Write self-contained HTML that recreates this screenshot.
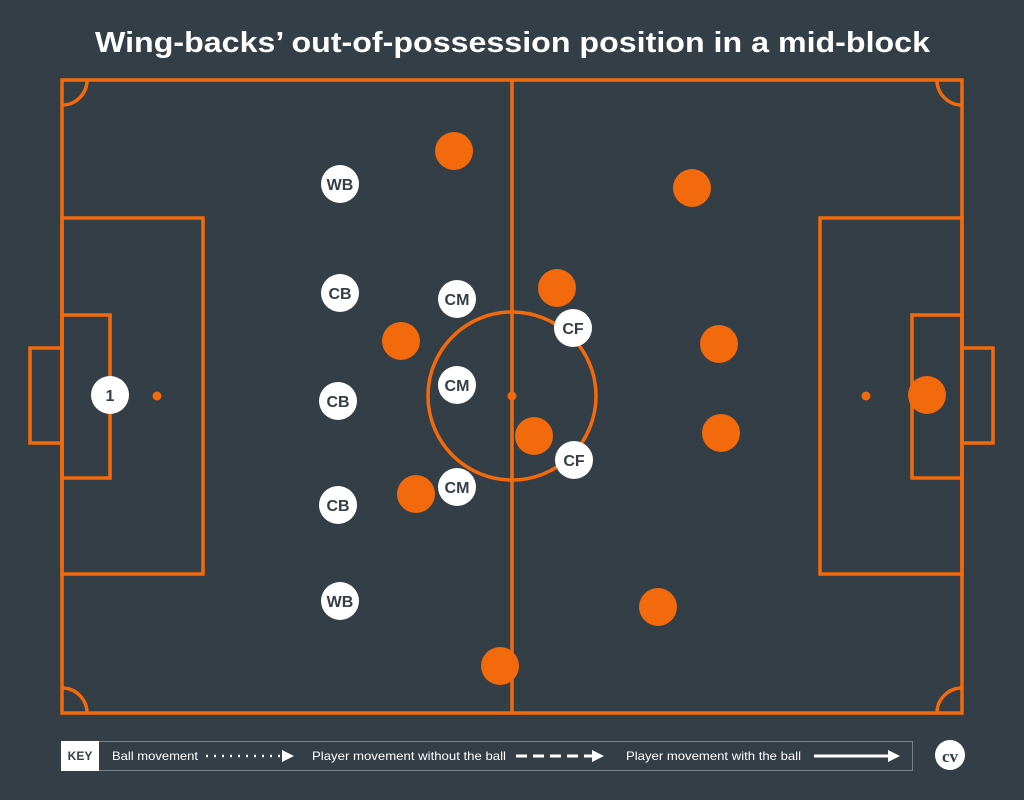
<!DOCTYPE html>
<html><head><meta charset="utf-8"><style>
html,body{margin:0;padding:0;background:#343e46;}
svg{display:block}
</style></head><body>
<svg width="1024" height="800" viewBox="0 0 1024 800" xmlns="http://www.w3.org/2000/svg">
<rect width="1024" height="800" fill="#343e46"/>
<text x="95" y="52" textLength="835" lengthAdjust="spacingAndGlyphs" font-family="Liberation Sans, sans-serif" font-weight="bold" font-size="29" fill="#fff">Wing-backs’ out-of-possession position in a mid-block</text>
<g fill="none" stroke="#f26a0c" stroke-width="3.5">
<rect x="62" y="80" width="900" height="633"/>
<line x1="512" y1="80" x2="512" y2="713"/>
<circle cx="512" cy="396" r="84"/>
<rect x="62" y="218" width="141" height="356"/>
<rect x="62" y="315" width="48" height="163"/>
<rect x="30" y="348" width="32" height="95"/>
<rect x="820" y="218" width="142" height="356"/>
<rect x="912" y="315" width="50" height="163"/>
<rect x="962" y="348" width="31" height="95"/>
<path d="M62 105 A25 25 0 0 0 87 80"/>
<path d="M937 80 A25 25 0 0 0 962 105"/>
<path d="M62 688 A25 25 0 0 1 87 713"/>
<path d="M937 713 A25 25 0 0 1 962 688"/>
</g>
<g fill="#f26a0c">
<circle cx="512" cy="396" r="4.5"/><circle cx="157" cy="396" r="4.5"/><circle cx="866" cy="396" r="4.5"/>
<circle cx="454" cy="151" r="19"/><circle cx="692" cy="188" r="19"/><circle cx="557" cy="288" r="19"/>
<circle cx="401" cy="341" r="19"/><circle cx="719" cy="344" r="19"/><circle cx="534" cy="436" r="19"/>
<circle cx="721" cy="433" r="19"/><circle cx="416" cy="494" r="19"/><circle cx="658" cy="607" r="19"/>
<circle cx="500" cy="666" r="19"/><circle cx="927" cy="395" r="19"/>
</g>
<g fill="#fff">
<circle cx="110" cy="395" r="19"/><circle cx="340" cy="184" r="19"/><circle cx="340" cy="293" r="19"/>
<circle cx="338" cy="401" r="19"/><circle cx="338" cy="505" r="19"/><circle cx="340" cy="601" r="19"/>
<circle cx="457" cy="299" r="19"/><circle cx="457" cy="385" r="19"/><circle cx="457" cy="487" r="19"/>
<circle cx="573" cy="328" r="19"/><circle cx="574" cy="460" r="19"/>
</g>
<g font-family="Liberation Sans, sans-serif" font-weight="bold" font-size="16" fill="#343e46" text-anchor="middle">
<text x="110" y="401">1</text><text x="340" y="190">WB</text><text x="340" y="299">CB</text>
<text x="338" y="407">CB</text><text x="338" y="511">CB</text><text x="340" y="607">WB</text>
<text x="457" y="305">CM</text><text x="457" y="391">CM</text><text x="457" y="493">CM</text>
<text x="573" y="334">CF</text><text x="574" y="466">CF</text>
</g>
<rect x="61.5" y="741.5" width="851" height="29" fill="none" stroke="#7a8289" stroke-width="1"/>
<rect x="61" y="741" width="38" height="30" fill="#fff"/>
<g font-family="Liberation Sans, sans-serif" font-size="12" fill="#fff">
<text x="80" y="760" text-anchor="middle" fill="#343e46" font-weight="bold">KEY</text>
<text x="112" y="760" textLength="86" lengthAdjust="spacingAndGlyphs">Ball movement</text>
<text x="312" y="760" textLength="194" lengthAdjust="spacingAndGlyphs">Player movement without the ball</text>
<text x="626" y="760" textLength="175" lengthAdjust="spacingAndGlyphs">Player movement with the ball</text>
</g>
<line x1="206" y1="756" x2="282" y2="756" stroke="#fff" stroke-width="2.5" stroke-dasharray="2 6"/>
<path d="M282 750 L294 756 L282 762Z" fill="#fff"/>
<line x1="516" y1="756" x2="592" y2="756" stroke="#fff" stroke-width="3" stroke-dasharray="11 6"/>
<path d="M592 750 L604 756 L592 762Z" fill="#fff"/>
<line x1="814" y1="756" x2="890" y2="756" stroke="#fff" stroke-width="3"/>
<path d="M888 750 L900 756 L888 762Z" fill="#fff"/>
<circle cx="950" cy="755" r="15" fill="#fff"/>
<text x="950" y="762" text-anchor="middle" font-family="Liberation Serif, serif" font-weight="bold" font-size="17" fill="#343e46">cv</text>
</svg>
</body></html>
